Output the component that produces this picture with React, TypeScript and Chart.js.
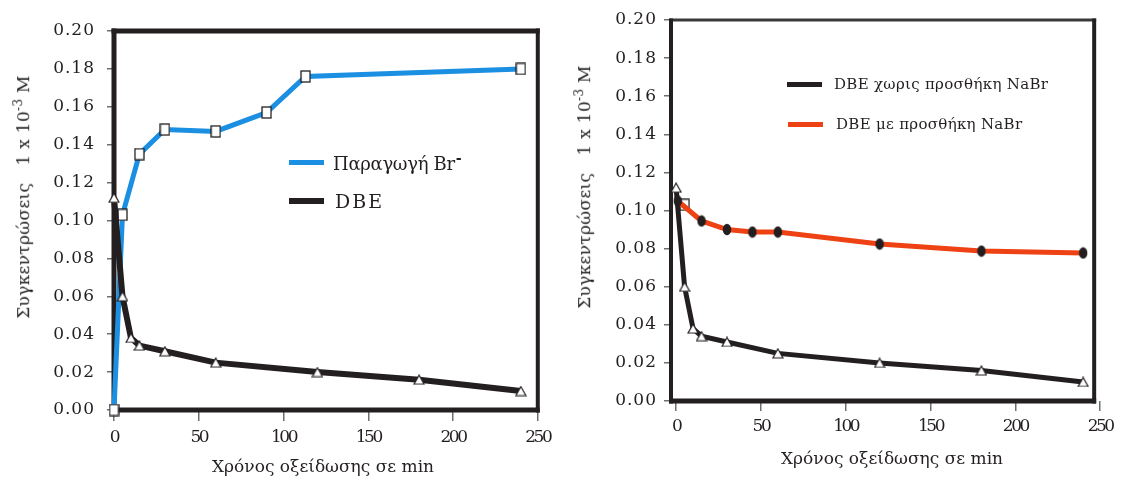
import React, { useEffect, useRef } from "react";
import { Chart, registerables } from "chart.js";
Chart.register(...registerables);

const INK = "#231f20";
const BLUE = "#1b8fe2";
const ORANGE = "#ee4214";
const FONT = "'DejaVu Serif', serif";

// ---- data ----
const dbeTime = [0, 5, 10, 15, 30, 60, 120, 180, 240];
const dbeConc = [0.112, 0.06, 0.038, 0.034, 0.031, 0.025, 0.02, 0.016, 0.01];
const brTime = [0, 5, 15, 30, 60, 90, 113, 240];
const brConc = [0.0, 0.103, 0.135, 0.148, 0.147, 0.157, 0.176, 0.18];
const nabrTime = [1, 15, 30, 45, 60, 120, 180, 240];
const nabrConc = [0.105, 0.0945, 0.09, 0.0887, 0.0887, 0.0824, 0.0787, 0.0777];
const strayTime = [5];
const strayConc = [0.103];
const xTickValues = [0, 50, 100, 150, 200, 250];
const yTickValues = [0, 0.02, 0.04, 0.06, 0.08, 0.1, 0.12, 0.14, 0.16, 0.18, 0.2];

const legendLeft = ["Παραγωγή Br", "DBE"];
const legendRight = ["DBE χωρις προσθήκη NaBr", "DBE με προσθήκη NaBr"];
const xTitle = "Χρόνος οξείδωσης σε min";
const yTitleMain = "Συγκεντρώσεις";

const pts = (xs: number[], ys: number[]) => xs.map((x, i) => ({ x, y: ys[i] }));

function makeTriangle() {
  const c = document.createElement("canvas");
  c.width = 12; c.height = 11;
  const g = c.getContext("2d")!;
  g.beginPath(); g.moveTo(6, 1); g.lineTo(11, 10); g.lineTo(1, 10); g.closePath();
  g.fillStyle = "#fff"; g.fill(); g.strokeStyle = INK; g.lineWidth = 1.2; g.stroke();
  return c;
}
function makeSquare() {
  const c = document.createElement("canvas");
  c.width = 11; c.height = 13;
  const g = c.getContext("2d")!;
  g.fillStyle = "#fff"; g.fillRect(1, 1, 9, 11);
  g.strokeStyle = INK; g.lineWidth = 1.3; g.strokeRect(1, 1, 9, 11);
  return c;
}
function makeEllipse() {
  const c = document.createElement("canvas");
  c.width = 10; c.height = 13;
  const g = c.getContext("2d")!;
  g.beginPath(); g.ellipse(5, 6.5, 4.2, 5.8, 0, 0, Math.PI * 2);
  g.fillStyle = INK; g.fill();
  return c;
}

function framePlugin(w: { top: number; right: number; bottom: number; left: number }, topColor = INK) {
  return {
    id: "frame",
    beforeDatasetsDraw(chart: any) {
      const { left, right, top, bottom } = chart.chartArea;
      const ctx = chart.ctx;
      ctx.save();
      ctx.fillStyle = topColor;
      ctx.fillRect(left - w.left / 2, top - w.top / 2, right - left + w.left / 2 + w.right / 2, w.top);
      ctx.fillStyle = INK;
      ctx.fillRect(left - w.left / 2, bottom - w.bottom / 2, right - left + w.left / 2 + w.right / 2, w.bottom);
      ctx.fillRect(left - w.left / 2, top - w.top / 2, w.left, bottom - top + w.top / 2 + w.bottom / 2);
      ctx.fillRect(right - w.right / 2, top - w.top / 2, w.right, bottom - top + w.top / 2 + w.bottom / 2);
      ctx.restore();
    },
  };
}

function spacingPlugin(cfg: Record<string, number>) {
  return {
    id: "spacing",
    beforeDraw(chart: any) {
      Object.keys(cfg).forEach((id) => {
        const s: any = chart.scales[id];
        if (!s || s.__patched) return;
        s.__patched = true;
        const orig = s.drawLabels.bind(s);
        s.drawLabels = (area: any) => {
          const ctx: any = chart.ctx;
          ctx.save();
          ctx.letterSpacing = cfg[id] + "px";
          orig(area);
          ctx.restore();
        };
      });
    },
  };
}

type Geo = {
  width: number; left: number; right: number; top: number; bottom: number;
  xMin: number; xMax: number; xTickLen: number; xPad: number; yPad: number;
};

function buildConfig(geo: Geo, datasets: any[], frame: any) {
  return {
    type: "line",
    data: { datasets },
    options: {
      animation: false,
      responsive: false,
      devicePixelRatio: 1,
      events: [],
      layout: { padding: { top: geo.top, right: geo.width - geo.right, bottom: 0, left: 0 } },
      plugins: { legend: { display: false }, tooltip: { enabled: false }, title: { display: false } },
      scales: {
        x: {
          type: "linear",
          min: geo.xMin,
          max: geo.xMax,
          afterFit: (s: any) => { s.height = 477 - geo.bottom; },
          afterBuildTicks: (s: any) => { s.ticks = xTickValues.map((v) => ({ value: v })); },
          border: { display: false },
          grid: { display: true, drawOnChartArea: false, drawTicks: true, tickLength: geo.xTickLen, color: "#6d6e70", lineWidth: 1.5 },
          ticks: { color: INK, font: { family: FONT, size: 17 }, padding: geo.xPad, maxRotation: 0, autoSkip: false, callback: (v: any) => String(v) },
        },
        y: {
          type: "linear",
          min: 0,
          max: 0.2,
          afterFit: (s: any) => { s.width = geo.left; },
          afterBuildTicks: (s: any) => { s.ticks = yTickValues.map((v) => ({ value: v })); },
          border: { display: false },
          grid: { display: true, drawOnChartArea: false, drawTicks: true, tickLength: 7, color: "#6d6e70", lineWidth: 1.5 },
          ticks: { color: INK, font: { family: FONT, size: 17 }, padding: geo.yPad, autoSkip: false, callback: (v: any) => Number(v).toFixed(2) },
        },
      },
    },
    plugins: [frame, spacingPlugin({ x: -2.5, y: 1 })],
  };
}

function ChartCanvas({ make, x, width }: { make: () => any; x: number; width: number }) {
  const ref = useRef<HTMLCanvasElement>(null);
  useEffect(() => {
    const chart = new Chart(ref.current!, make());
    return () => chart.destroy();
  }, []);
  return (
    <canvas
      ref={ref}
      width={width}
      height={477}
      style={{ position: "absolute", left: x, top: 0, width, height: 477, display: "block" }}
    />
  );
}

const textBase: React.CSSProperties = {
  position: "absolute",
  fontFamily: FONT,
  color: INK,
  whiteSpace: "nowrap",
  lineHeight: 1,
};

function Centered({ x, y, rotate, size, spacing, children }: any) {
  return (
    <div
      style={{
        ...textBase,
        left: x,
        top: y,
        fontSize: size,
        letterSpacing: spacing,
        transform: `translate(-50%, -50%)${rotate ? ` rotate(${rotate}deg)` : ""}`,
      }}
    >
      {children}
    </div>
  );
}

function LegendItem({ x, y, color, thick, textX, text, size, spacing, sup }: any) {
  return (
    <>
      <div style={{ position: "absolute", left: x, top: y - thick / 2, width: 35, height: thick, background: color }} />
      <div style={{ ...textBase, left: textX, top: y, fontSize: size, letterSpacing: spacing, transform: "translateY(-50%)" }}>
        {text}
        {sup ? <sup style={{ fontWeight: 900, fontSize: size * 0.8, marginLeft: 1 }}>{sup}</sup> : null}
      </div>
    </>
  );
}

export default function App() {
  const leftGeo: Geo = { width: 560, left: 114, right: 541, top: 31, bottom: 410, xMin: 0, xMax: 250, xTickLen: 11, xPad: 6, yPad: 12 };
  const rightGeo: Geo = { width: 561, left: 111, right: 537, top: 20, bottom: 401, xMin: -3, xMax: 246.5, xTickLen: 10, xPad: 5, yPad: 7 };

  const makeLeft = () => {
    const tri = makeTriangle();
    const sq = makeSquare();
    return buildConfig(
      leftGeo,
      [
        {
          label: legendLeft[1], data: pts(dbeTime, dbeConc), borderColor: INK, borderWidth: 6,
          pointStyle: tri, pointRadius: 5, tension: 0, clip: false, order: 0,
        },
        {
          label: legendLeft[0], data: pts(brTime, brConc), borderColor: BLUE, borderWidth: 5,
          pointStyle: sq, pointRadius: 5, tension: 0, clip: false, order: 1,
        },
      ],
      framePlugin({ top: 5, right: 4, bottom: 5, left: 5 })
    );
  };

  const makeRight = () => {
    const tri = makeTriangle();
    const sq = makeSquare();
    const el = makeEllipse();
    return buildConfig(
      rightGeo,
      [
        {
          label: legendRight[0], data: pts(dbeTime, dbeConc), borderColor: INK, borderWidth: 5,
          pointStyle: tri, pointRadius: 5, tension: 0, clip: false, order: 1,
        },
        {
          label: legendRight[1], data: pts(nabrTime, nabrConc), borderColor: ORANGE, borderWidth: 5,
          pointStyle: el, pointRadius: 5, tension: 0, clip: false, order: 0,
        },
        {
          label: "", data: pts(strayTime, strayConc), showLine: false,
          pointStyle: sq, pointRadius: 5, clip: false, order: 2,
        },
      ],
      framePlugin({ top: 3, right: 4, bottom: 5, left: 4 }, "#3a3a3a")
    );
  };

  return (
    <div style={{ position: "fixed", left: 0, top: 0, width: 1121, height: 477, background: "#fff", overflow: "hidden" }}>
      <ChartCanvas make={makeLeft} x={0} width={560} />
      <ChartCanvas make={makeRight} x={560} width={561} />

      <Centered x={22} y={197} rotate={-90} size={17} spacing={0.3}>
        {yTitleMain}&nbsp;&nbsp; 1 x 10<sup style={{ fontSize: 12 }}>-3</sup> M
      </Centered>
      <Centered x={323} y={466} size={17} spacing={0}>{xTitle}</Centered>

      <Centered x={583} y={187} rotate={-90} size={17} spacing={0.3}>
        {yTitleMain}&nbsp;&nbsp; 1 x 10<sup style={{ fontSize: 12 }}>-3</sup> M
      </Centered>
      <Centered x={892} y={458} size={17} spacing={0}>{xTitle}</Centered>

      <LegendItem x={289} y={162} color={BLUE} thick={5} textX={333} text={legendLeft[0]} size={18} spacing={-0.3} sup="-" />
      <LegendItem x={289} y={201} color={INK} thick={6} textX={335} text={legendLeft[1]} size={19} spacing={2} />

      <LegendItem x={787} y={84} color={INK} thick={5} textX={834} text={legendRight[0]} size={15} spacing={0.3} />
      <LegendItem x={788} y={124} color={ORANGE} thick={5} textX={836} text={legendRight[1]} size={15} spacing={0.3} />
    </div>
  );
}
